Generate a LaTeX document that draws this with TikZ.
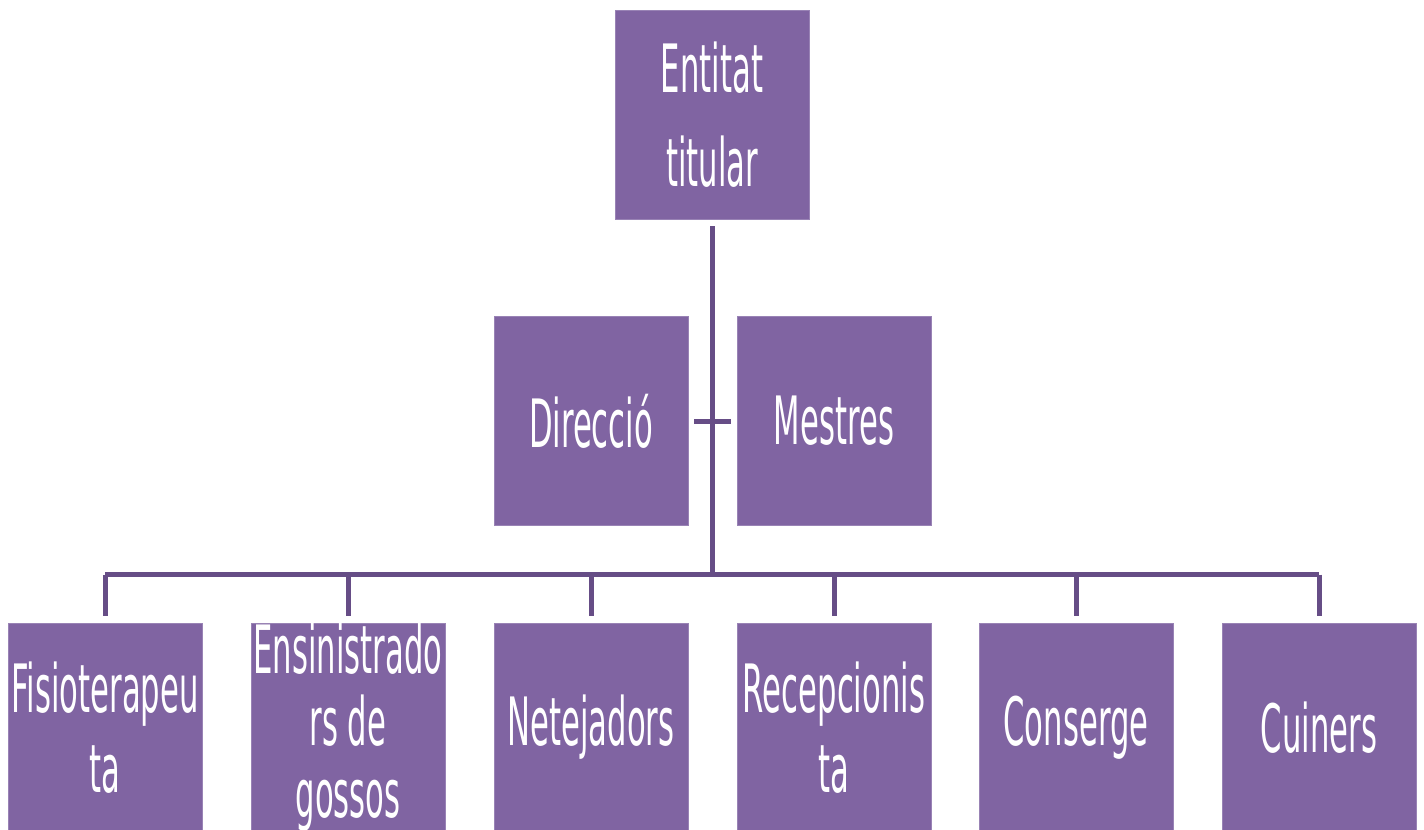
\documentclass[tikz,border=0pt]{standalone}
\usepackage{fontspec}
\setmainfont{DejaVu Sans}[FakeStretch=0.46]
\usepackage{tikz}
\definecolor{boxpurple}{HTML}{8064A2}
\definecolor{linepurple}{HTML}{664D86}
\begin{document}
\begin{tikzpicture}[x=0.75pt,y=0.75pt,yscale=-1,xscale=1,
  box/.style={fill=boxpurple,draw=boxpurple!80!white,line width=0.4pt,minimum width=145.5pt,minimum height=156.75pt,inner sep=0pt,align=center,text=white,font=\fontsize{50}{60}\selectfont},
  link/.style={draw=linepurple,line width=3.75pt}]
\useasboundingbox (0,0) rectangle (1424,830);
% top level
\node [box,font=\fontsize{50}{71}\selectfont] (titular) at (712,114.5) {Entitat\\titular};
% second level
\node [box] (direccio) at (591,421) {Direcció};
\node [box] (mestres) at (834,421) {Mestres};
% staff
\node [box] (fisio) at (105,727.5) {Fisioterapeu\\ta};
\node [box,font=\fontsize{50}{54}\selectfont] (ensin) at (348,727.5) {Ensinistrado\\rs de\\gossos};
\node [box] (netej) at (591,727.5) {Netejadors};
\node [box] (recep) at (834,727.5) {Recepcionis\\ta};
\node [box] (conserge) at (1076,727.5) {Conserge};
\node [box] (cuiners) at (1319,727.5) {Cuiners};
\coordinate (bus) at (712,574.5);
\draw [link,shorten <=5.25pt] (titular.south) -- (bus);
\draw [link,shorten <=4.5pt,shorten >=4.5pt] (direccio.east) -- (mestres.west);
\draw [link,line join=round] (fisio.north |- bus) -- (cuiners.north |- bus);
\foreach \n in {fisio,ensin,netej,recep,conserge,cuiners}
  \draw [link,shorten >=5.25pt] (\n.north |- bus) -- (\n.north);
\end{tikzpicture}
\end{document}
